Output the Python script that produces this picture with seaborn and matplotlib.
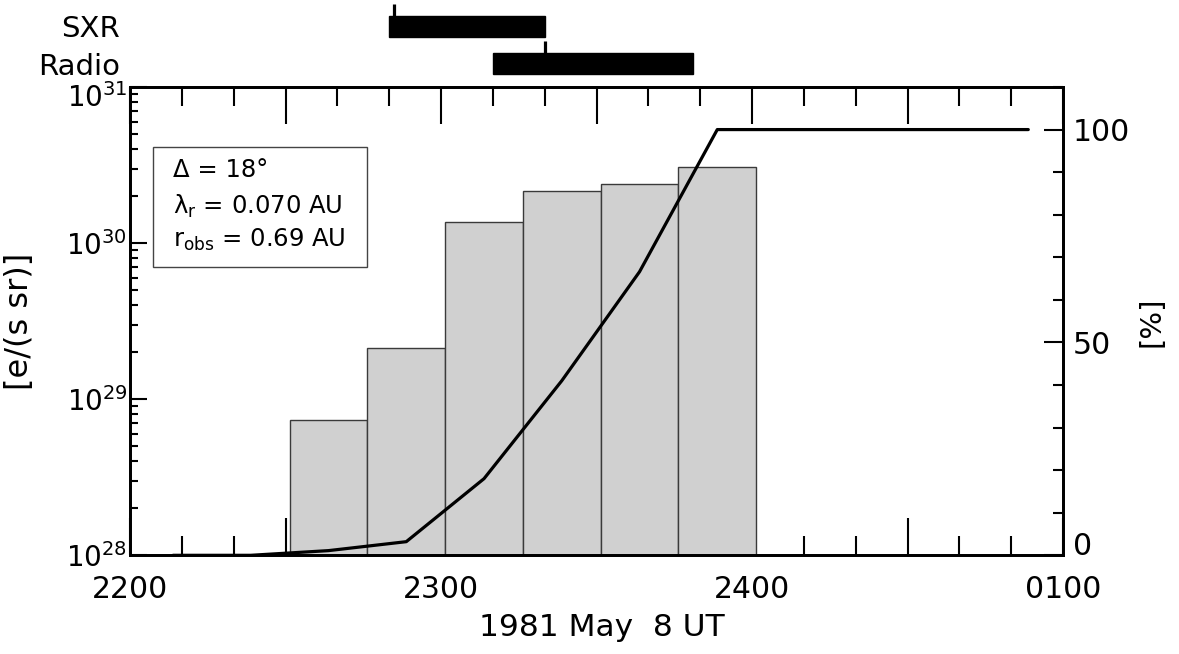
import math
import matplotlib
matplotlib.use("Agg")
import matplotlib.pyplot as plt
import matplotlib.transforms as mtransforms
import seaborn as sns
import pandas as pd
from matplotlib.ticker import MultipleLocator, LogLocator, NullFormatter, FuncFormatter, FixedLocator
from matplotlib.patches import Rectangle

# ---------------- data (times in minutes after 22:00 UT, 1981 May 8) ----------------
bin_start_min = [30.8, 45.8, 60.8, 75.8, 90.8, 105.8]
bin_width_min = 15.0
electron_rate = [7.36e28, 2.13e29, 1.37e30, 2.15e30, 2.38e30, 3.06e30]   # e/(s sr)

cum_time_min = [8.3, 23.3, 38.3, 53.3, 68.3, 83.3, 98.3, 113.3, 128.3, 143.3, 158.3, 173.3]
cum_percent = [0, 0, 1.1, 3.2, 18.0, 41.0, 66.6, 100, 100, 100, 100, 100]

x_tick_labels = ["2200", "2300", "2400", "0100"]
y_decades = [28, 29, 30, 31]

event_names = ["SXR", "Radio"]
event_start_min = [50.0, 70.0]
event_end_min = [80.0, 108.6]
event_peak_min = [50.9, 80.0]

legend_lines = ["Δ = 18°", "λ$_{\\rm r}$ = 0.070 AU", "r$_{\\rm obs}$ = 0.69 AU"]

# ---------------- style ----------------
sns.set_style("ticks", {"axes.edgecolor": "black", "xtick.color": "black", "ytick.color": "black",
                        "text.color": "black", "axes.labelcolor": "black"})
plt.rcParams["font.family"] = ["DejaVu Sans"]
plt.rcParams["mathtext.fontset"] = "dejavusans"

W, H = 1179, 654
fig = plt.figure(figsize=(W / 100, H / 100), dpi=100)
L, R, T, B = 130, 1063, 87, 555.3
ax = fig.add_axes([L / W, (H - B) / H, (R - L) / W, (B - T) / H])

# bars
ax.set_yscale("log")
ax.bar(bin_start_min, electron_rate, width=bin_width_min, align="edge",
       color="#d0d0d0", edgecolor="#3a3a3a", linewidth=1.0, zorder=1)
ax.set_ylim(10.0 ** y_decades[0], 10.0 ** y_decades[-1])
ax.set_xlim(0, 180)

# x axis ticks
ax.xaxis.set_major_locator(FixedLocator(list(range(0, 181, 30))))
ax.xaxis.set_minor_locator(MultipleLocator(10))
major_labels = [x_tick_labels[i // 2] if i % 2 == 0 else "" for i in range(7)]
ax.set_xticklabels(major_labels)
ax.tick_params(axis="x", which="both", direction="in", top=True, bottom=True, width=1.5,
               labelsize=21.5, pad=14)
ax.tick_params(axis="x", which="major", length=26.6)
ax.tick_params(axis="x", which="minor", length=13.7)

# left y axis
ax.yaxis.set_major_locator(FixedLocator([10.0 ** d for d in y_decades]))
ax.yaxis.set_minor_locator(LogLocator(base=10, subs=range(2, 10), numticks=20))
ax.yaxis.set_minor_formatter(NullFormatter())
ax.yaxis.set_major_formatter(FuncFormatter(lambda v, p: r"$10^{%d}$" % round(math.log10(v))))
ax.tick_params(axis="y", which="both", direction="in", left=True, right=False, width=1.5,
               labelsize=20, pad=2)
ax.tick_params(axis="y", which="major", length=12)
ax.tick_params(axis="y", which="minor", length=6)
ax.set_ylabel("[e/(s sr)]", fontsize=23)
ax.yaxis.set_label_coords((35 - L) / (R - L), 0.5)
ax.set_xlabel("1981 May  8 UT", fontsize=22.5)
ax.xaxis.set_label_coords((602 - L) / (R - L), (B - 613) / (B - T))
# lower the top decade label a little (as in the reference)
top_lbl = ax.yaxis.get_major_ticks()[-1].label1
top_lbl.set_transform(top_lbl.get_transform() +
                      mtransforms.ScaledTranslation(0, -8 / 100, fig.dpi_scale_trans))

for s in ax.spines.values():
    s.set_linewidth(2.0)

# right axis: cumulative percentage
ax2 = ax.twinx()
cum_df = pd.DataFrame({"t": cum_time_min, "pct": cum_percent})
sns.lineplot(data=cum_df, x="t", y="pct", ax=ax2, color="black", linewidth=2.3, zorder=3)
ax2.set_ylim(0, 110)
ax2.set_xlim(0, 180)
ax2.yaxis.set_major_locator(FixedLocator([0, 50, 100]))
ax2.yaxis.set_minor_locator(MultipleLocator(10))
ax2.tick_params(axis="y", which="both", direction="in", right=True, left=False, width=1.5,
                labelsize=21.5, pad=7)
ax2.tick_params(axis="y", which="major", length=13.7)
ax2.tick_params(axis="y", which="minor", length=7.2)
ax2.set_ylabel("[%]", fontsize=21, rotation=90)
ax2.yaxis.set_label_coords((1137 - L) / (R - L), (B - 321.5) / (B - T))
ax2.set_xlabel("")
for s in ax2.spines.values():
    s.set_linewidth(2.0)
ax2.yaxis.get_major_ticks()[0].label2.set_verticalalignment("baseline")

# legend box
bx0, bx1, by0, by1 = 152.7, 367.3, 147.3, 266.7
ax.add_patch(Rectangle(((bx0 - L) / (R - L), (B - by1) / (B - T)), (bx1 - bx0) / (R - L),
                       (by1 - by0) / (B - T), transform=ax.transAxes, fill=False,
                       edgecolor="#444444", linewidth=1.0, zorder=5))
for txt, yb in zip(legend_lines, [177, 214, 247]):
    ax.text((173 - L) / (R - L), (B - yb) / (B - T), txt, transform=ax.transAxes,
            fontsize=17.5, ha="left", va="baseline", zorder=6)

# top panel: SXR / Radio intervals
row_px0, row_dpx = 26.3, 37.4
axt = fig.add_axes([L / W, (H - T) / H, (R - L) / W, T / H])
axt.set_xlim(0, 180)
axt.set_ylim((T - row_px0) / row_dpx, -row_px0 / row_dpx)
rows = list(range(len(event_names)))
bar_h = 20.5 / row_dpx
axt.barh(rows, [e - s for s, e in zip(event_start_min, event_end_min)], left=event_start_min,
         height=bar_h, color="black", edgecolor="black")
tick_len = 12 / row_dpx
axt.vlines(event_peak_min, [r - bar_h / 2 - tick_len for r in rows], [r - bar_h / 2 for r in rows],
           color="black", linewidth=2.3)
axt.set_yticks(rows)
axt.set_yticklabels(event_names)
axt.tick_params(axis="y", length=0, pad=7, labelsize=21)
axt.tick_params(axis="x", bottom=False, labelbottom=False)
for s in axt.spines.values():
    s.set_visible(False)
axt.patch.set_visible(False)

fig.savefig("out.png", dpi=100)
